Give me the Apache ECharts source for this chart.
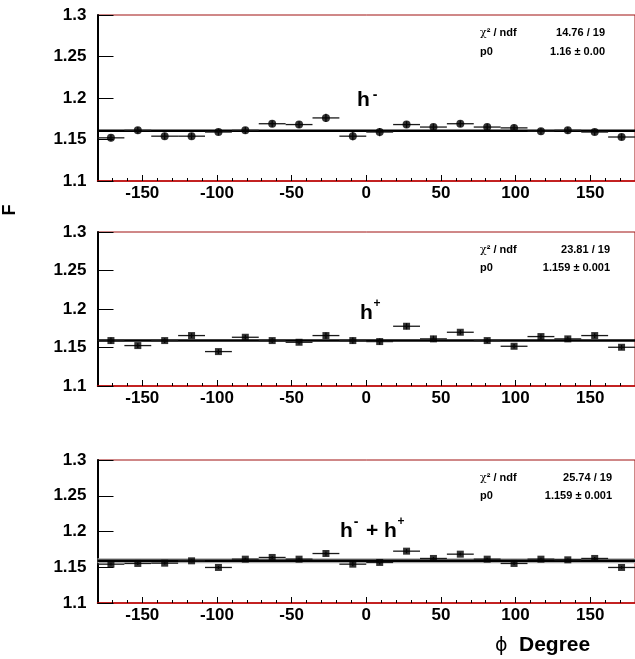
<!DOCTYPE html>
<html><head><meta charset="utf-8">
<script src="https://cdn.jsdelivr.net/npm/echarts@6/dist/echarts.min.js"></script>
<style>html,body{margin:0;padding:0;background:#fff}#c{width:635px;height:659px}</style>
</head><body><div id="c"></div>
<script>
// ---- data ----
const binCenters = [-171,-153,-135,-117,-99,-81,-63,-45,-27,-9,9,27,45,63,81,99,117,135,153,171];
const binHalfWidth = 9;
const hMinusVals = [1.152,1.161,1.154,1.154,1.159,1.161,1.169,1.168,1.176,1.154,1.159,1.168,1.165,1.169,1.165,1.164,1.160,1.161,1.159,1.153];
const hMinusErr  = [0.004,0.004,0.004,0.004,0.004,0.004,0.004,0.004,0.005,0.005,0.005,0.004,0.004,0.004,0.004,0.004,0.004,0.004,0.004,0.004];
const hPlusVals  = [1.159,1.1525,1.159,1.1655,1.1447,1.1633,1.159,1.1568,1.1655,1.159,1.1577,1.1776,1.1612,1.1698,1.159,1.1516,1.1642,1.1612,1.1655,1.1503];
const hPlusErr   = [0.004,0.003,0.003,0.003,0.003,0.003,0.003,0.003,0.004,0.004,0.004,0.004,0.004,0.003,0.003,0.003,0.003,0.003,0.003,0.003];
const hSumVals   = [1.1543,1.1553,1.1557,1.159,1.1497,1.1613,1.1637,1.1613,1.1692,1.1543,1.1567,1.1725,1.1623,1.1683,1.1613,1.1553,1.1613,1.1604,1.1623,1.1497];
const hSumErr    = [0.002,0.002,0.002,0.002,0.002,0.002,0.002,0.002,0.003,0.003,0.003,0.003,0.002,0.002,0.002,0.002,0.002,0.002,0.002,0.002];
const fitValues  = [1.1605, 1.159, 1.159];
const statChi    = ['14.76 / 19', '23.81 / 19', '25.74 / 19'];
const statP0     = ['1.16 \u00b1 0.00', '1.159 \u00b1 0.001', '1.159 \u00b1 0.001'];
const xMajorTicks = [-150,-100,-50,0,50,100,150];
const xMinorTicks = [-170,-160,-140,-130,-120,-110,-90,-80,-70,-60,-40,-30,-20,-10,10,20,30,40,60,70,80,90,110,120,130,140,160,170];
const yMin = 1.1, yMax = 1.3, yStep = 0.05;

const panels = [
  {vals: hMinusVals, err: hMinusErr, symbol: 'circle', size: 8},
  {vals: hPlusVals,  err: hPlusErr,  symbol: 'rect',   size: 7},
  {vals: hSumVals,   err: hSumErr,   symbol: 'rect',   size: 7}
];
const gridPos = [{top:15, height:166},{top:232, height:154},{top:460, height:143}];
const FONT = '"Liberation Sans", Arial, sans-serif';

const grids = [], xAxes = [], yAxes = [], series = [];
panels.forEach((p, i) => {
  grids.push({left: 97.5, width: 541, top: gridPos[i].top, height: gridPos[i].height,
    show: true, borderColor: '#a01010', borderWidth: 1, backgroundColor: 'transparent'});
  xAxes.push({gridIndex: i, type: 'value', min: -180, max: 180, position: 'bottom',
    axisLine: {show: true, onZero: false, lineStyle: {color: '#c00000', width: 1.5}},
    axisTick: {show: true, inside: true, length: 6, customValues: xMajorTicks, lineStyle: {color: '#000', width: 1}},
    axisLabel: {show: true, customValues: xMajorTicks, fontFamily: FONT, fontWeight: 'bold', fontSize: 17, color: '#000', margin: 4},
    splitLine: {show: false}});
  xAxes.push({gridIndex: i, type: 'value', min: -180, max: 180, position: 'bottom',
    axisLine: {show: false, onZero: false},
    axisTick: {show: true, inside: true, length: 3, customValues: xMinorTicks, lineStyle: {color: '#000', width: 1}},
    axisLabel: {show: false}, splitLine: {show: false}});
  yAxes.push({gridIndex: i, type: 'value', min: yMin, max: yMax, interval: yStep,
    axisLine: {show: true, onZero: false, lineStyle: {color: '#000', width: 2}},
    axisTick: {show: true, inside: true, length: 16, lineStyle: {color: '#000', width: 1}},
    axisLabel: {fontFamily: FONT, fontWeight: 'bold', fontSize: 17, color: '#000', margin: 11},
    splitLine: {show: false}});
  const data = binCenters.map((x, k) => [x, p.vals[k], p.err[k]]);
  if (i === 2) {
    series.push({type: 'line', xAxisIndex: 2*i, yAxisIndex: i, data: [[-180, fitValues[i]], [180, fitValues[i]]],
      symbol: 'none', silent: true, z: 1, lineStyle: {color: '#aaaaaa', width: 5}});
  }
  series.push({type: 'line', xAxisIndex: 2*i, yAxisIndex: i, data: [[-180, fitValues[i]], [180, fitValues[i]]],
    symbol: 'none', silent: true, z: 2, lineStyle: {color: '#000', width: 2.5}});
  series.push({type: 'custom', xAxisIndex: 2*i, yAxisIndex: i, data: data, z: 3, silent: true,
    renderItem: function (params, api) {
      const x = api.value(0), y = api.value(1), e = api.value(2);
      const l = api.coord([x - binHalfWidth, y]);
      const r = api.coord([x + binHalfWidth, y]);
      const t = api.coord([x, y + e]);
      const b = api.coord([x, y - e]);
      return {type: 'group', children: [
        {type: 'line', shape: {x1: l[0], y1: l[1], x2: r[0], y2: r[1]}, style: {stroke: '#1a1a1a', lineWidth: 1.3}},
        {type: 'line', shape: {x1: t[0], y1: t[1], x2: b[0], y2: b[1]}, style: {stroke: '#1a1a1a', lineWidth: 1.3}}
      ]};
    }});
  series.push({type: 'scatter', xAxisIndex: 2*i, yAxisIndex: i, data: data.map(d => [d[0], d[1]]),
    symbol: p.symbol, symbolSize: p.size, z: 4, silent: true, itemStyle: {color: '#000'}});
});

const graphics = [];
const statRows = [[33, 52], [250, 268], [478, 496]];
const statRight = [605, 610, 612];
function txt(x, y, text, font, align) {
  graphics.push({type: 'text', x: x, y: y, style: {text: text, font: font, fill: '#000',
    textAlign: align || 'left', textVerticalAlign: 'middle'}});
}
for (let i = 0; i < 3; i++) {
  graphics.push({type: 'text', x: 480, y: statRows[i][0], style: {
    text: '{g|\u03c7}{b|\u00b2 / ndf}', textVerticalAlign: 'middle', rich: {
      g: {fontFamily: '"DejaVu Serif", serif', fontSize: 11, fill: '#000'},
      b: {fontFamily: FONT, fontWeight: 'bold', fontSize: 11, fill: '#000'}}}});
  txt(480, statRows[i][1], 'p0', 'bold 11px ' + FONT);
  txt(statRight[i], statRows[i][0], statChi[i], 'bold 11px ' + FONT, 'right');
  txt(statRight[i], statRows[i][1], statP0[i], 'bold 11px ' + FONT, 'right');
}
// panel labels
const big = 'bold 21px ' + FONT;
txt(357, 100, 'h', big); txt(375, 95, '-', 'bold 14px ' + FONT, 'center');
txt(360, 313, 'h', big); txt(377, 304, '+', 'bold 12px ' + FONT, 'center');
txt(340, 531, 'h', big); txt(356, 522, '-', 'bold 14px ' + FONT, 'center');
txt(366, 531, '+', big);
txt(384, 531, 'h', big); txt(401, 522, '+', 'bold 12px ' + FONT, 'center');
// axis titles
graphics.push({type: 'text', x: 10, y: 210, rotation: Math.PI / 2, style: {
  text: 'F', font: 'bold 18px ' + FONT, fill: '#000', textAlign: 'center', textVerticalAlign: 'middle'}});
txt(495, 646, '\u03d5', '19px "DejaVu Sans", sans-serif');
txt(519, 645, 'Degree', 'bold 21px ' + FONT);

const chart = echarts.init(document.getElementById('c'), null, {renderer: 'canvas'});
chart.setOption({
  animation: false,
  backgroundColor: '#fff',
  grid: grids, xAxis: xAxes, yAxis: yAxes, series: series, graphic: graphics
});
</script></body></html>
